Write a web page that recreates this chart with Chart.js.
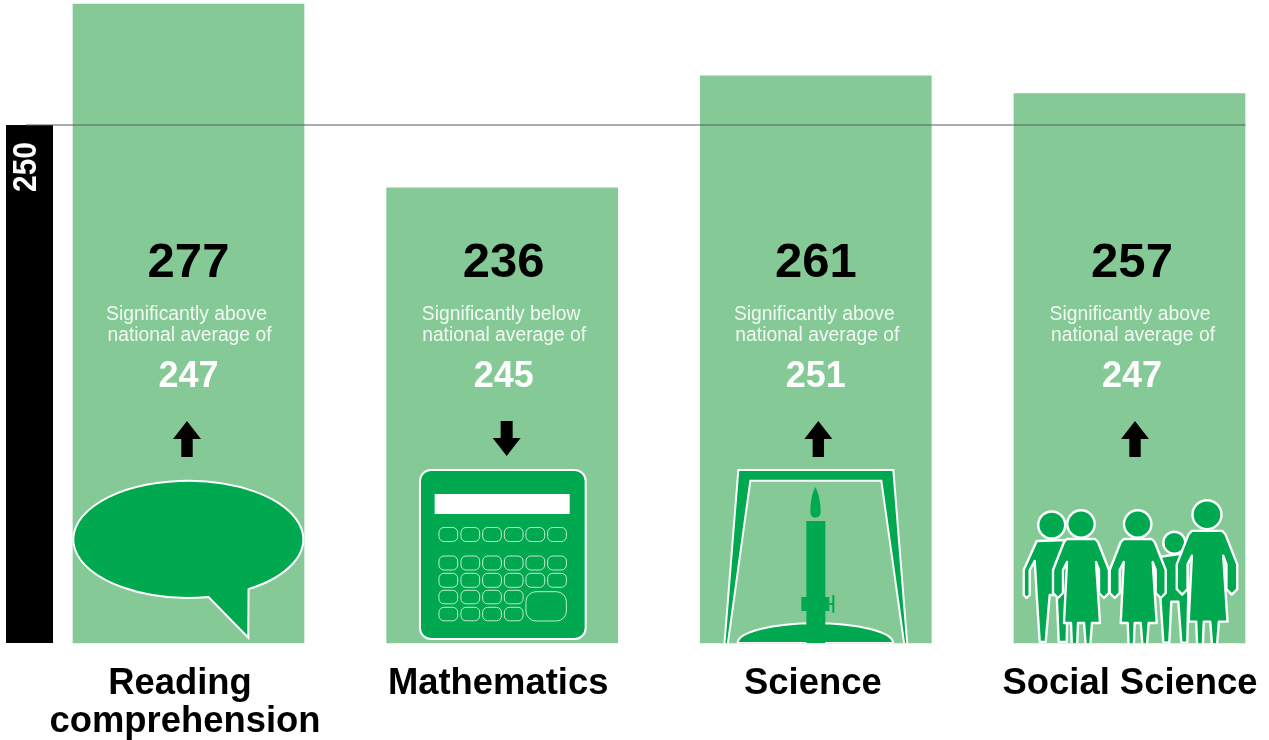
<!DOCTYPE html>
<html>
<head>
<meta charset="utf-8">
<title>Scores</title>
<script src="https://cdn.jsdelivr.net/npm/chart.js@4"></script>
<style>
  html, body { margin: 0; padding: 0; background: #fff; overflow: hidden; }
  canvas { display: block; }
</style>
</head>
<body>
<canvas id="scoreChart" width="1269" height="740"></canvas>
<script>
const subjects = [["Reading ", "comprehension"], "Mathematics", "Science", "Social Science"];
const scores = [277, 236, 261, 257];
const nationalAverages = [247, 245, 251, 247];
const comparisons = ["above", "below", "above", "above"];
const referenceScore = 250;
const axisMin = 134.4;
const axisMax = 277.9;

const FONT = '"Liberation Sans", Arial, sans-serif';
const LIGHT_GREEN = "#85ca96";
const DARK_GREEN = "#00a94f";

// small sideways shifts of the text, the original is not quite centred
const numberNudge = [0, 1.5, 0, 2.5];
const noteNudge = [0, 1, 0.5, 2.5];
const arrowNudge = [-1.5, 4.5, 2.5, 5.5];
const labelNudge = [-3.5, -4, -3, 0.5];

function polygon(ctx, pts) {
    ctx.beginPath();
    pts.forEach((p, i) => i ? ctx.lineTo(p[0], p[1]) : ctx.moveTo(p[0], p[1]));
    ctx.closePath();
}

function roundBox(ctx, x, y, w, h, r) {
    ctx.beginPath();
    ctx.roundRect(x, y, w, h, r);
}

function drawArrow(ctx, x, up) {
    const tip = up ? -222 : -187;
    const neck = up ? -204 : -205;
    const end = up ? -186 : -222;
    const stem = up ? 5.7 : 6;
    ctx.fillStyle = "#000";
    polygon(ctx, [[x, tip], [x + 14, neck], [x + stem, neck], [x + stem, end],
                  [x - stem, end], [x - stem, neck], [x - 14, neck]]);
    ctx.fill();
}

function drawBubble(ctx) {
    ctx.beginPath();
    ctx.ellipse(-0.2, -103.7, 115, 58.5, 0, 80 * Math.PI / 180, (360 + 58.4) * Math.PI / 180);
    ctx.lineTo(59.8, -5.3);
    ctx.closePath();
    ctx.fillStyle = DARK_GREEN;
    ctx.fill();
    ctx.strokeStyle = "#fff";
    ctx.lineWidth = 2;
    ctx.stroke();
}

function drawCalculator(ctx) {
    roundBox(ctx, -82.2, -173, 165.7, 169, 11);
    ctx.fillStyle = DARK_GREEN;
    ctx.fill();
    ctx.strokeStyle = "#fff";
    ctx.lineWidth = 2;
    ctx.stroke();
    ctx.fillStyle = "#fff";
    ctx.fillRect(-67.5, -149, 135, 20);

    const keyX = [-63.2, -41.2, -19.5, 2.2, 23.8, 45.5];
    ctx.strokeStyle = "#c4e8cf";
    ctx.lineWidth = 1;
    [-115.5, -87, -69.7].forEach(y => keyX.forEach(x => {
        roundBox(ctx, x, y, 18.7, 14, 5);
        ctx.stroke();
    }));
    [-52.7, -35.7].forEach(y => keyX.slice(0, 4).forEach(x => {
        roundBox(ctx, x, y, 18.7, 13.5, 5);
        ctx.stroke();
    }));
    roundBox(ctx, 23.8, -51.3, 40.4, 29.3, 10);
    ctx.stroke();
}

function drawBurner(ctx) {
    // bell jar
    ctx.beginPath();
    ctx.moveTo(-77.5, -173);
    ctx.lineTo(77.5, -173);
    ctx.lineTo(91.5, 2);
    ctx.lineTo(88.5, 2);
    ctx.lineTo(65.5, -162.3);
    ctx.lineTo(-65.5, -162.3);
    ctx.lineTo(-88.2, 2);
    ctx.lineTo(-91.5, 2);
    ctx.closePath();
    ctx.fillStyle = DARK_GREEN;
    ctx.fill();
    ctx.strokeStyle = "#fff";
    ctx.lineWidth = 2;
    ctx.stroke();

    // foot
    ctx.beginPath();
    ctx.ellipse(-0.5, 0, 77.7, 19.7, 0, Math.PI, 2 * Math.PI);
    ctx.closePath();
    ctx.fill();
    ctx.stroke();

    ctx.fillStyle = DARK_GREEN;
    ctx.fillRect(-9.5, -122, 19, 122);
    ctx.fillRect(-14.5, -46, 28, 14);
    ctx.fillRect(13.5, -40, 4, 2);
    ctx.fillRect(16.5, -48, 2, 17.7);

    // flame
    ctx.beginPath();
    ctx.moveTo(-0.5, -156);
    ctx.bezierCurveTo(-4, -150, -5.5, -140, -5.5, -131);
    ctx.bezierCurveTo(-5.5, -127, -3, -125.3, -0.5, -125.3);
    ctx.bezierCurveTo(2, -125.3, 4.8, -127, 4.8, -131);
    ctx.bezierCurveTo(4.8, -140, 3, -150, -0.5, -156);
    ctx.fill();
}

// outlines in pixels, relative to the centre of the head
const womanShape = [[-14, 15], [14, 15], [17, 18], [28, 46], [28, 69], [23, 74], [18, 69], [18, 46], [15, 38],
    [19, 99], [11, 99], [9, 125], [5, 125], [3, 99], [-3, 99], [-4, 125], [-9, 125], [-10, 99], [-17, 99],
    [-14, 38], [-18, 46], [-18, 69], [-23, 74], [-28, 69], [-28, 46], [-17, 18]];
const manShape = [[-15, 16], [15, 15], [22, 28], [16, 70], [15, 117], [7, 117], [5, 70], [-2, 70], [-6, 117],
    [-12, 117], [-15, 70], [-17, 36], [-22, 45], [-22, 70], [-25, 73], [-28, 70], [-28, 45]];
const childShape = [[-14, 14], [13, 10], [14, 50], [13, 100], [7, 100], [4, 59], [-3, 59], [-5, 100], [-11, 100], [-14, 54]];

function drawPerson(ctx, x, y, r, shape, s) {
    ctx.fillStyle = DARK_GREEN;
    ctx.strokeStyle = "#fff";
    ctx.lineWidth = 2.4;
    ctx.lineJoin = "round";
    polygon(ctx, shape.map(p => [x + p[0] * s, y + p[1] * s]));
    ctx.fill();
    ctx.stroke();
    ctx.beginPath();
    ctx.arc(x, y, r, 0, 2 * Math.PI);
    ctx.fill();
    ctx.stroke();
}

function drawFamily(ctx) {
    drawPerson(ctx, -77.8, -118, 13.5, manShape, 1);
    drawPerson(ctx, -48.5, -119, 13.7, womanShape, 1);
    drawPerson(ctx, 44.8, -100.3, 11, childShape, 1);
    drawPerson(ctx, 8.2, -119, 13.7, womanShape, 1);
    drawPerson(ctx, 77.5, -128.3, 14.5, womanShape, 1.08);
}

const icons = [drawBubble, drawCalculator, drawBurner, drawFamily];

const referencePlugin = {
    id: "reference",
    // the tick labels are not all centred the same way under their bars
    afterUpdate(chart) {
        chart.scales.x.getLabelItems().forEach((item, i) => {
            item.options.translation[0] += labelNudge[i];
        });
    },
    beforeDatasetsDraw(chart) {
        const ctx = chart.ctx;
        const y = chart.scales.y.getPixelForValue(referenceScore);
        const bottom = chart.chartArea.bottom;
        const left = chart.chartArea.left;
        ctx.save();
        ctx.fillStyle = "#000";
        ctx.fillRect(left - 182.5, y, 47, bottom - y);
        ctx.translate(left - 152.5, y + 42);
        ctx.rotate(-Math.PI / 2);
        ctx.scale(0.88, 1);
        ctx.fillStyle = "#fff";
        ctx.font = "bold 34px " + FONT;
        ctx.textAlign = "center";
        ctx.fillText(String(referenceScore), 0, 0);
        ctx.restore();
    },
    afterDatasetsDraw(chart) {
        const ctx = chart.ctx;
        const xs = chart.scales.x;
        const y = chart.scales.y.getPixelForValue(referenceScore);
        const bottom = chart.chartArea.bottom;

        scores.forEach((score, i) => {
            const cx = xs.getPixelForValue(i);
            ctx.save();
            ctx.translate(cx, bottom);
            ctx.textAlign = "center";

            ctx.fillStyle = "#000";
            ctx.font = "bold 49px " + FONT;
            ctx.fillText(String(score), numberNudge[i], -366);

            ctx.fillStyle = "#f2f9f4";
            ctx.font = "19.3px " + FONT;
            ctx.fillText("Significantly " + comparisons[i], noteNudge[i] - 2, -323);
            ctx.fillText("national average of", noteNudge[i] + 1, -302);

            ctx.fillStyle = "#fff";
            ctx.font = "bold 36px " + FONT;
            ctx.fillText(String(nationalAverages[i]), numberNudge[i], -256);

            drawArrow(ctx, arrowNudge[i], comparisons[i] === "above");

            ctx.beginPath();
            ctx.rect(-130, -200, 260, 200);
            ctx.clip();
            icons[i](ctx);
            ctx.restore();
        });

        ctx.save();
        ctx.strokeStyle = "#5a5a5a";
        ctx.lineWidth = 1.2;
        ctx.beginPath();
        ctx.moveTo(26, y);
        ctx.lineTo(xs.getPixelForValue(scores.length - 1) + 116, y);
        ctx.stroke();
        ctx.restore();
    }
};

new Chart(document.getElementById("scoreChart"), {
    type: "bar",
    data: {
        labels: subjects,
        datasets: [{
            data: scores,
            base: axisMin,
            backgroundColor: LIGHT_GREEN,
            barThickness: 231,
            clip: false
        }]
    },
    options: {
        responsive: false,
        animation: false,
        layout: { padding: { left: 188.5, right: 139.5, top: 0, bottom: 0 } },
        plugins: { legend: { display: false }, tooltip: { enabled: false } },
        scales: {
            x: {
                offset: false,
                grid: { display: false },
                border: { display: false },
                ticks: {
                    color: "#000",
                    padding: 14,
                    maxRotation: 0,
                    autoSkip: false,
                    font: { family: FONT, size: 36.4, weight: "bold", lineHeight: 1.05 }
                },
                afterFit(scale) {
                    scale.height = 97;
                    scale.paddingLeft = 0;
                    scale.paddingRight = 0;
                }
            },
            y: { display: false, min: axisMin, max: axisMax }
        }
    },
    plugins: [referencePlugin]
});
</script>
</body>
</html>
